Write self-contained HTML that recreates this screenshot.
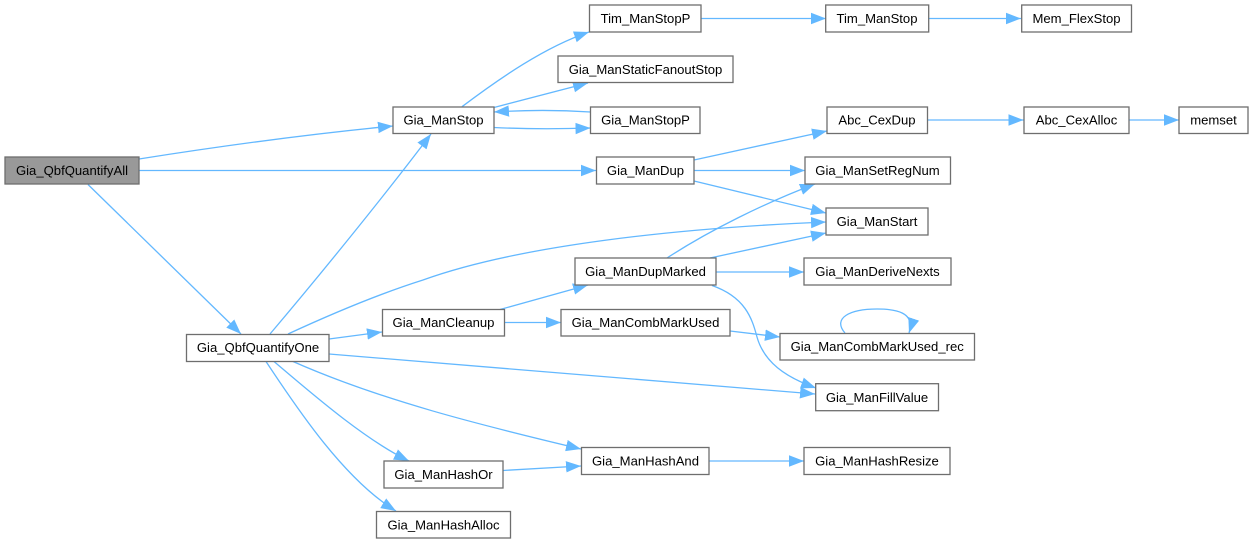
<!DOCTYPE html>
<html><head><meta charset="utf-8"><style>
html,body{margin:0;padding:0;background:#fff;width:1253px;height:544px;overflow:hidden}
svg{display:block}
text{font-family:"Liberation Sans",Arial,sans-serif;font-size:13.1px;text-anchor:middle;fill:#000}
rect{fill:#fff;stroke:#6e6e6e;stroke-width:1.3}
path{fill:none;stroke:#63b8ff;stroke-width:1.3}
</style></head><body>
<svg width="1253" height="544" viewBox="0 0 1253 544" xmlns="http://www.w3.org/2000/svg">
<defs><marker id="a" markerUnits="userSpaceOnUse" markerWidth="18" markerHeight="14" refX="15" refY="6" orient="auto"><polygon points="0,0.3 15,6 0,11.7" fill="#63b8ff"/></marker></defs>
<path marker-end="url(#a)" d="M139,159C215,147 310,134 393,126"/>
<path marker-end="url(#a)" d="M139,170.5H596"/>
<path marker-end="url(#a)" d="M88,184.5L241,334"/>
<path marker-end="url(#a)" d="M270,334C320,275 385,195 431,134"/>
<path marker-end="url(#a)" d="M288,334C340,310 385,292 423,280C520,245 680,228 826,222"/>
<path marker-end="url(#a)" d="M329,339L382,332"/>
<path marker-end="url(#a)" d="M329,354L815,394"/>
<path marker-end="url(#a)" d="M293,361.5C380,400 480,425 581,449"/>
<path marker-end="url(#a)" d="M274,361.5C310,392 365,440 409,461"/>
<path marker-end="url(#a)" d="M266,361.5C298,410 345,480 396,511"/>
<path marker-end="url(#a)" d="M500,309.5L588,285"/>
<path marker-end="url(#a)" d="M504.5,322.5H561"/>
<path marker-end="url(#a)" d="M730,331L780,337"/>
<path marker-end="url(#a)" d="M667,258C710,230 765,203 815,184"/>
<path marker-end="url(#a)" d="M710,258L826,233"/>
<path marker-end="url(#a)" d="M716,272H804"/>
<path marker-end="url(#a)" d="M712,285.500C745,297 752,318 757,337C764,362 785,377 816,388"/>
<path marker-end="url(#a)" d="M845,333C832,318 850,309 877,309C895,309 916,312 909,333"/>
<path marker-end="url(#a)" d="M709,461H804"/>
<path marker-end="url(#a)" d="M503,470.500L581,466"/>
<path marker-end="url(#a)" d="M462,106.700C500,78 545,47 589,32"/>
<path marker-end="url(#a)" d="M494,107.500L588,83"/>
<path marker-end="url(#a)" d="M590.500,112C560,110 525,110 494,112"/>
<path marker-end="url(#a)" d="M494,127.500C525,129 560,129 590.500,128"/>
<path marker-end="url(#a)" d="M701,18.500H826"/>
<path marker-end="url(#a)" d="M929,18.500H1021"/>
<path marker-end="url(#a)" d="M694,160L827,131"/>
<path marker-end="url(#a)" d="M694,170.500H805"/>
<path marker-end="url(#a)" d="M694,181L826,213"/>
<path marker-end="url(#a)" d="M927.500,120H1023.500"/>
<path marker-end="url(#a)" d="M1129,120H1179"/>
<rect x="5" y="157" width="134" height="27" style="fill:#999"/><text x="72" y="175">Gia_QbfQuantifyAll</text>
<rect x="186.500" y="334.500" width="142.500" height="27"/><text x="258" y="352">Gia_QbfQuantifyOne</text>
<rect x="393" y="107" width="101" height="26.500"/><text x="443.500" y="124.500">Gia_ManStop</text>
<rect x="589.500" y="5" width="111.500" height="27"/><text x="645.500" y="23">Tim_ManStopP</text>
<rect x="558" y="56" width="175" height="26.500"/><text x="645.500" y="74">Gia_ManStaticFanoutStop</text>
<rect x="590.500" y="107" width="109.500" height="26.500"/><text x="645.500" y="124.500">Gia_ManStopP</text>
<rect x="596.500" y="157" width="97.500" height="27"/><text x="645.500" y="175">Gia_ManDup</text>
<rect x="575" y="258" width="141" height="27"/><text x="645.500" y="276">Gia_ManDupMarked</text>
<rect x="825.700" y="5" width="103" height="27"/><text x="877" y="23">Tim_ManStop</text>
<rect x="1021.700" y="5" width="109.800" height="27"/><text x="1076.500" y="23">Mem_FlexStop</text>
<rect x="827" y="107" width="100.500" height="26.500"/><text x="877" y="124.500">Abc_CexDup</text>
<rect x="1024" y="107" width="105" height="26.500"/><text x="1076.500" y="124.500">Abc_CexAlloc</text>
<rect x="1179" y="107" width="69" height="26.500"/><text x="1213.500" y="124.500">memset</text>
<rect x="805" y="157" width="145.500" height="27"/><text x="877.500" y="175">Gia_ManSetRegNum</text>
<rect x="826" y="208" width="102" height="27"/><text x="877" y="226">Gia_ManStart</text>
<rect x="804" y="258" width="147" height="27"/><text x="877.500" y="276">Gia_ManDeriveNexts</text>
<rect x="382.500" y="309.500" width="122" height="26.500"/><text x="443.500" y="327">Gia_ManCleanup</text>
<rect x="561" y="309.500" width="169" height="26.500"/><text x="645.500" y="327">Gia_ManCombMarkUsed</text>
<rect x="780" y="333.500" width="194.500" height="26.500"/><text x="877.200" y="351">Gia_ManCombMarkUsed_rec</text>
<rect x="815.700" y="383.700" width="122.800" height="27"/><text x="877" y="402">Gia_ManFillValue</text>
<rect x="581.500" y="447.500" width="127.500" height="27"/><text x="645.500" y="465.500">Gia_ManHashAnd</text>
<rect x="804" y="447.500" width="146" height="27"/><text x="877" y="465.500">Gia_ManHashResize</text>
<rect x="384" y="461" width="119" height="27"/><text x="443.500" y="479">Gia_ManHashOr</text>
<rect x="376.500" y="511.500" width="134" height="26.500"/><text x="443.500" y="529.500">Gia_ManHashAlloc</text>
</svg>
</body></html>
